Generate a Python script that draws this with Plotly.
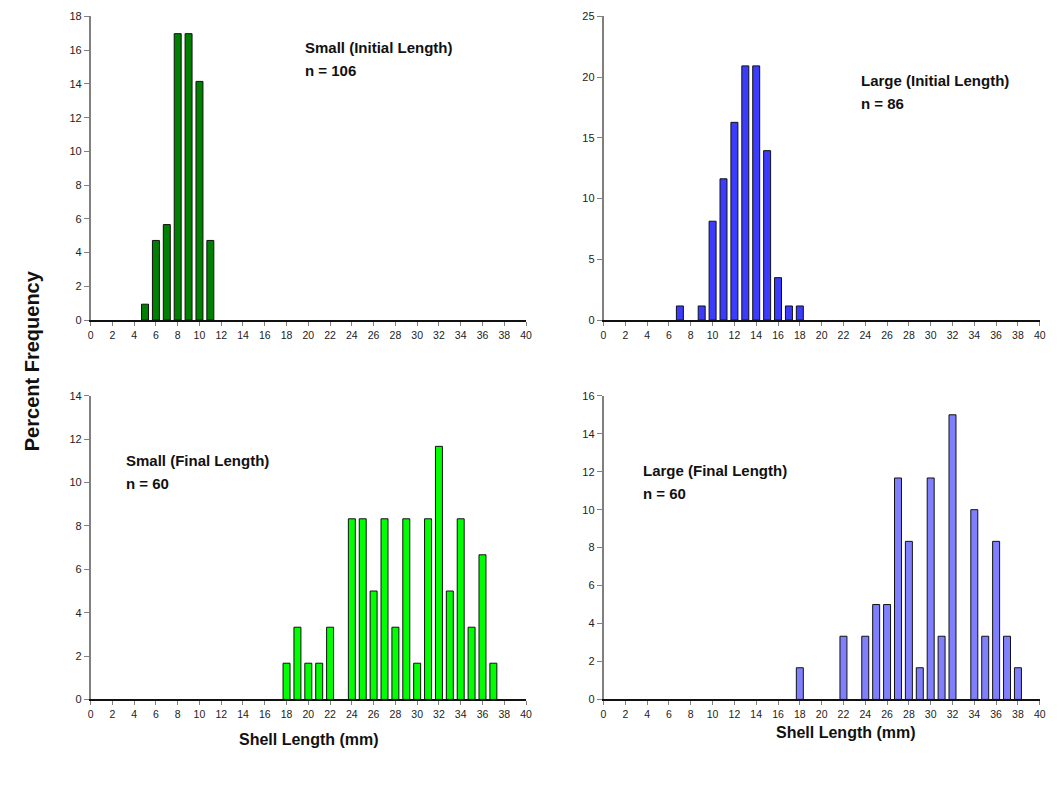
import plotly.graph_objects as go

# page body has an 8px default margin; figure covers reference pixels 8..1051 x 8..763
OFF = 8
W, H = 1043, 755

# Data (percent frequency by shell length, mm)
small_init_x = [5, 6, 7, 8, 9, 10, 11]
small_init_y = [0.94, 4.72, 5.66, 16.98, 16.98, 14.15, 4.72]

large_init_x = [7, 9, 10, 11, 12, 13, 14, 15, 16, 17, 18]
large_init_y = [1.16, 1.16, 8.14, 11.63, 16.28, 20.93, 20.93, 13.95, 3.49, 1.16, 1.16]

small_final_x = [18, 19, 20, 21, 22, 24, 25, 26, 27, 28, 29, 30, 31, 32, 33, 34, 35, 36, 37]
small_final_y = [1.67, 3.33, 1.67, 1.67, 3.33, 8.33, 8.33, 5.0, 8.33, 3.33, 8.33, 1.67, 8.33, 11.67,
                 5.0, 8.33, 3.33, 6.67, 1.67]

large_final_x = [18, 22, 24, 25, 26, 27, 28, 29, 30, 31, 32, 34, 35, 36, 37, 38]
large_final_y = [1.67, 3.33, 3.33, 5.0, 5.0, 11.67, 8.33, 1.67, 11.67, 3.33, 15.0, 10.0, 3.33, 8.33,
                 3.33, 1.67]

x_ticks = list(range(0, 41, 2))
panel_titles = ["Small (Initial Length)", "Large (Initial Length)",
                "Small (Final Length)", "Large (Final Length)"]
panel_n = ["n = 106", "n = 86", "n = 60", "n = 60"]
y_max = [18, 25, 14, 16]
y_dtick = [2, 5, 2, 2]
colors = ["#008000", "#3c3cff", "#00ff00", "#8080ff"]

FONT = "Arial, Liberation Sans, sans-serif"


def px_x(p):
    return (p - OFF) / W


def px_y(p):
    return 1 - (p - OFF) / H


# panel pixel boxes in reference coords: (left, right, top, bottom)
boxes = [(88.3, 527.5, 10.5, 319), (605.7, 1045.7, 10.5, 319),
         (88.3, 527.5, 396, 704.5), (605.7, 1045.7, 396, 704.5)]

series = [(small_init_x, small_init_y), (large_init_x, large_init_y),
          (small_final_x, small_final_y), (large_final_x, large_final_y)]

fig = go.Figure()
layout = dict(
    width=W, height=H, margin=dict(l=0, r=0, t=0, b=0),
    paper_bgcolor="white", plot_bgcolor="white", showlegend=False,
    font=dict(family=FONT, color="#222222"),
)

for i, ((xs, ys), box, c) in enumerate(zip(series, boxes, colors)):
    sfx = "" if i == 0 else str(i + 1)
    fig.add_trace(go.Bar(
        x=xs, y=ys, width=0.64, marker=dict(color=c, line=dict(color="#111111", width=1)),
        xaxis="x" + sfx, yaxis="y" + sfx,
    ))
    l, r, t, b = box
    layout["xaxis" + sfx] = dict(
        domain=[px_x(l), px_x(r)], anchor="y" + sfx, range=[0, 40],
        tickmode="array", tickvals=x_ticks, ticktext=[str(v) for v in x_ticks],
        showline=True, linecolor="#111111", linewidth=2, showgrid=False, zeroline=False,
        ticks="outside", ticklen=4, tickcolor="#808080", tickwidth=1,
        tickfont=dict(size=10.5, color="#222222", family=FONT),
    )
    layout["yaxis" + sfx] = dict(
        domain=[px_y(b), px_y(t)], anchor="x" + sfx, range=[0, y_max[i]], dtick=y_dtick[i],
        showline=True, linecolor="#808080", linewidth=1.5, showgrid=False, zeroline=False,
        ticks="outside", ticklen=5, tickcolor="#808080", tickwidth=1,
        tickfont=dict(size=11, color="#222222", family=FONT),
    )

fig.update_layout(**layout)

# panel labels
label_pos = [(303, 42), (863, 76), (122, 462), (643, 472)]
for (lx, ly), title, n in zip(label_pos, panel_titles, panel_n):
    for k, txt in enumerate([title, n]):
        fig.add_annotation(
            text="<b>" + txt + "</b>", xref="paper", yref="paper",
            x=px_x(lx), y=px_y(ly + 23 * k), xanchor="left", yanchor="middle",
            showarrow=False, font=dict(size=15, color="#111111", family=FONT),
        )

fig.add_annotation(
    text="<b>Percent Frequency</b>", xref="paper", yref="paper",
    x=px_x(30), y=px_y(360), textangle=-90, showarrow=False,
    xanchor="center", yanchor="middle", font=dict(size=20, color="#111111", family=FONT),
)
for cx, cy in [(309, 745), (850, 738)]:
    fig.add_annotation(
        text="<b>Shell Length (mm)</b>", xref="paper", yref="paper",
        x=px_x(cx), y=px_y(cy), showarrow=False,
        xanchor="center", yanchor="middle", font=dict(size=16, color="#111111", family=FONT),
    )

fig.write_html("out.html")
